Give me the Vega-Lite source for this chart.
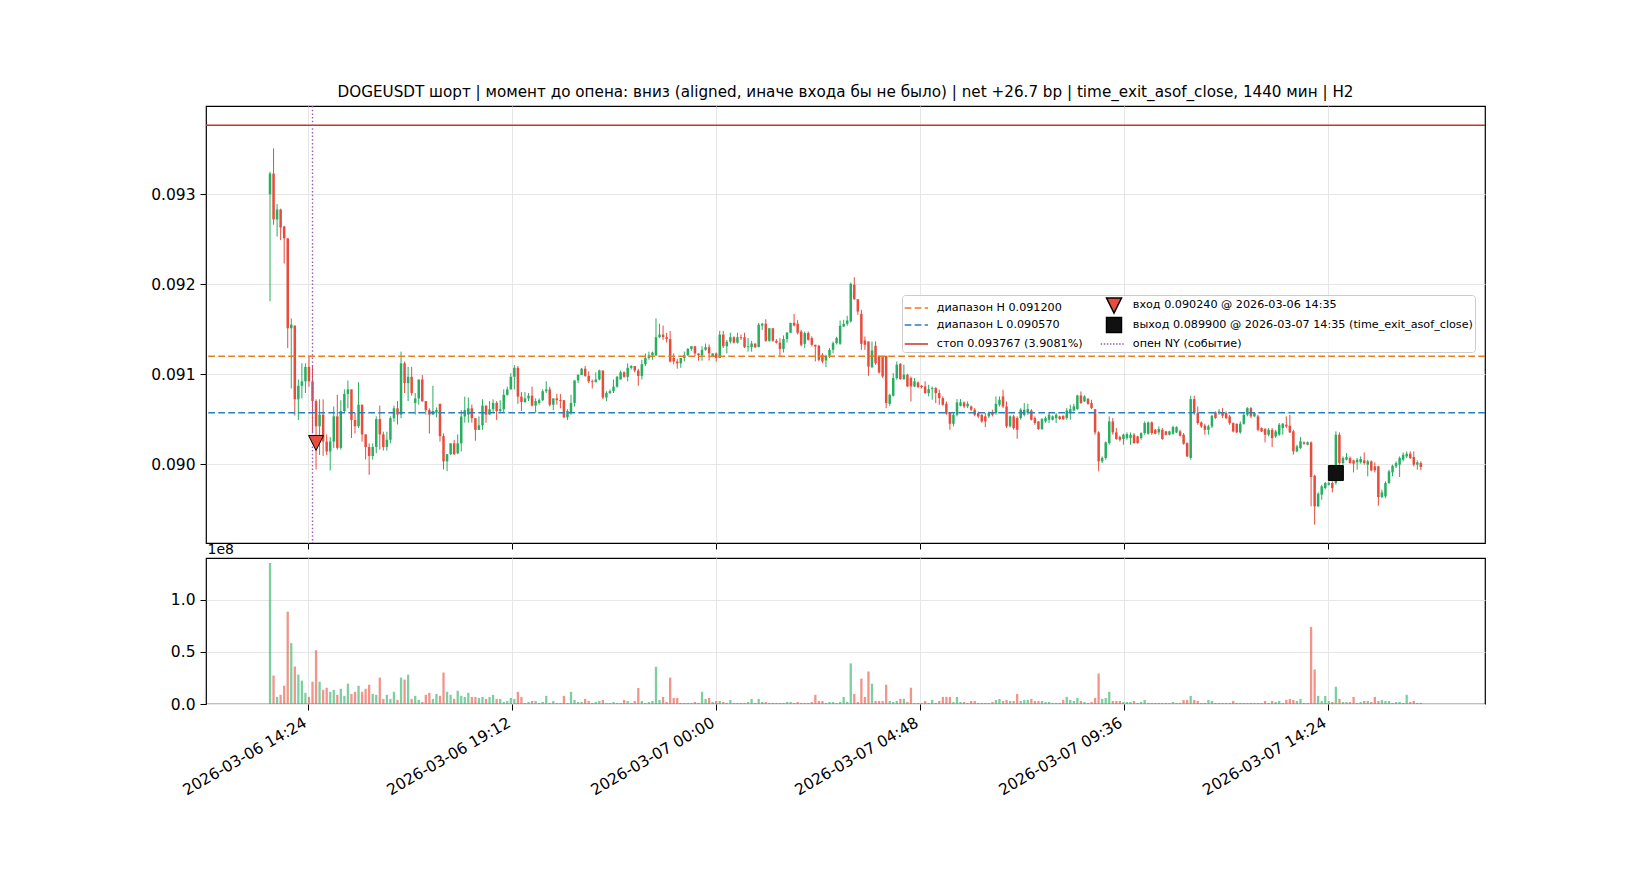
{
"$schema":"https://vega.github.io/schema/vega-lite/v6.json",
"background":"white",
"padding":{"left":150,"top":84,"right":20,"bottom":20},
"spacing":15,
"bounds":"flush",
"config":{
 "font":"DejaVu Sans",
 "view":{"stroke":"#000000","strokeWidth":1.2},
 "axis":{"domain":false,"tickColor":"#000000","tickSize":6,"tickWidth":1,"labelFont":"DejaVu Sans","labelFontSize":15.5,"labelColor":"#000000","gridColor":"#e6e6e6","gridWidth":1,"labelPadding":5,"labelFlush":false,"labelOverlap":false},
 "legend":{"orient":"none","legendX":696,"legendY":189,"columns":2,"fillColor":"rgba(255,255,255,0.8)","strokeColor":"#cccccc","cornerRadius":3,"padding":2,"labelFont":"DejaVu Sans","labelFontSize":11.2,"labelColor":"#000000","labelLimit":600,"symbolSize":196,"symbolStrokeWidth":1.5,"labelOffset":10.8,"symbolOffset":6,"rowPadding":-2,"columnPadding":14,"symbolOpacity":1}
},
"datasets":{"candles":[
{"t":"2026-03-06T13:30:00Z","o":0.093,"h":0.09325,"l":0.09181,"c":0.09323,"v":135400000},
{"t":"2026-03-06T13:35:00Z","o":0.09323,"h":0.09351,"l":0.09266,"c":0.09272,"v":27300000},
{"t":"2026-03-06T13:40:00Z","o":0.09272,"h":0.09289,"l":0.09253,"c":0.09283,"v":6800000},
{"t":"2026-03-06T13:45:00Z","o":0.09283,"h":0.09284,"l":0.09249,"c":0.09263,"v":8800000},
{"t":"2026-03-06T13:50:00Z","o":0.09264,"h":0.09265,"l":0.09223,"c":0.09251,"v":17500000},
{"t":"2026-03-06T13:55:00Z","o":0.09251,"h":0.09251,"l":0.09129,"c":0.09151,"v":88600000},
{"t":"2026-03-06T14:00:00Z","o":0.09151,"h":0.09162,"l":0.09084,"c":0.09155,"v":58400000},
{"t":"2026-03-06T14:05:00Z","o":0.09154,"h":0.09154,"l":0.09054,"c":0.09072,"v":36000000},
{"t":"2026-03-06T14:10:00Z","o":0.09072,"h":0.09094,"l":0.09049,"c":0.09087,"v":28200000},
{"t":"2026-03-06T14:15:00Z","o":0.09087,"h":0.09112,"l":0.09073,"c":0.09092,"v":22400000},
{"t":"2026-03-06T14:20:00Z","o":0.09092,"h":0.09112,"l":0.09079,"c":0.09108,"v":10700000},
{"t":"2026-03-06T14:25:00Z","o":0.09108,"h":0.09121,"l":0.09086,"c":0.09092,"v":6800000},
{"t":"2026-03-06T14:30:00Z","o":0.09092,"h":0.0911,"l":0.09034,"c":0.0907,"v":21400000},
{"t":"2026-03-06T14:35:00Z","o":0.0907,"h":0.09072,"l":0.08994,"c":0.09042,"v":51600000},
{"t":"2026-03-06T14:40:00Z","o":0.09042,"h":0.09072,"l":0.0901,"c":0.09055,"v":21400000},
{"t":"2026-03-06T14:45:00Z","o":0.09055,"h":0.09072,"l":0.09009,"c":0.09025,"v":13600000},
{"t":"2026-03-06T14:50:00Z","o":0.09025,"h":0.09033,"l":0.0901,"c":0.09014,"v":15600000},
{"t":"2026-03-06T14:55:00Z","o":0.09014,"h":0.0903,"l":0.08993,"c":0.09025,"v":11700000},
{"t":"2026-03-06T15:00:00Z","o":0.09025,"h":0.09064,"l":0.09018,"c":0.09053,"v":13600000},
{"t":"2026-03-06T15:05:00Z","o":0.09053,"h":0.09077,"l":0.09016,"c":0.09018,"v":8800000},
{"t":"2026-03-06T15:10:00Z","o":0.09018,"h":0.09071,"l":0.09016,"c":0.09059,"v":14600000},
{"t":"2026-03-06T15:15:00Z","o":0.09059,"h":0.09083,"l":0.09057,"c":0.09078,"v":7800000},
{"t":"2026-03-06T15:20:00Z","o":0.09078,"h":0.09093,"l":0.09062,"c":0.09083,"v":19500000},
{"t":"2026-03-06T15:25:00Z","o":0.09083,"h":0.09083,"l":0.09029,"c":0.09049,"v":9700000},
{"t":"2026-03-06T15:30:00Z","o":0.09049,"h":0.09057,"l":0.09034,"c":0.09042,"v":11700000},
{"t":"2026-03-06T15:35:00Z","o":0.09042,"h":0.09091,"l":0.0904,"c":0.09066,"v":17500000},
{"t":"2026-03-06T15:40:00Z","o":0.09066,"h":0.09066,"l":0.09025,"c":0.09033,"v":11700000},
{"t":"2026-03-06T15:45:00Z","o":0.09033,"h":0.09033,"l":0.09005,"c":0.09019,"v":14600000},
{"t":"2026-03-06T15:50:00Z","o":0.09019,"h":0.09023,"l":0.08988,"c":0.09009,"v":18500000},
{"t":"2026-03-06T15:55:00Z","o":0.09009,"h":0.09023,"l":0.09005,"c":0.09019,"v":9700000},
{"t":"2026-03-06T16:00:00Z","o":0.09019,"h":0.09053,"l":0.09012,"c":0.0905,"v":8800000},
{"t":"2026-03-06T16:05:00Z","o":0.0905,"h":0.09065,"l":0.09016,"c":0.09033,"v":25300000},
{"t":"2026-03-06T16:10:00Z","o":0.09033,"h":0.09036,"l":0.09015,"c":0.09019,"v":4900000},
{"t":"2026-03-06T16:15:00Z","o":0.09019,"h":0.09036,"l":0.09015,"c":0.09027,"v":8800000},
{"t":"2026-03-06T16:20:00Z","o":0.09027,"h":0.09053,"l":0.09023,"c":0.09051,"v":4900000},
{"t":"2026-03-06T16:25:00Z","o":0.09051,"h":0.09065,"l":0.09047,"c":0.09062,"v":11700000},
{"t":"2026-03-06T16:30:00Z","o":0.09062,"h":0.0907,"l":0.09044,"c":0.09055,"v":3900000},
{"t":"2026-03-06T16:35:00Z","o":0.09055,"h":0.09125,"l":0.09051,"c":0.09112,"v":25300000},
{"t":"2026-03-06T16:40:00Z","o":0.09112,"h":0.09114,"l":0.09079,"c":0.0909,"v":23400000},
{"t":"2026-03-06T16:45:00Z","o":0.0909,"h":0.09108,"l":0.0907,"c":0.09097,"v":28200000},
{"t":"2026-03-06T16:50:00Z","o":0.09097,"h":0.09108,"l":0.09076,"c":0.09079,"v":4900000},
{"t":"2026-03-06T16:55:00Z","o":0.09068,"h":0.09079,"l":0.09055,"c":0.09073,"v":7800000},
{"t":"2026-03-06T17:00:00Z","o":0.09073,"h":0.09094,"l":0.09066,"c":0.09094,"v":3900000},
{"t":"2026-03-06T17:05:00Z","o":0.09094,"h":0.09099,"l":0.09069,"c":0.0907,"v":1900000},
{"t":"2026-03-06T17:10:00Z","o":0.0907,"h":0.0907,"l":0.09055,"c":0.0906,"v":8800000},
{"t":"2026-03-06T17:15:00Z","o":0.0906,"h":0.09062,"l":0.09034,"c":0.09055,"v":10700000},
{"t":"2026-03-06T17:20:00Z","o":0.09055,"h":0.09087,"l":0.09055,"c":0.09059,"v":4900000},
{"t":"2026-03-06T17:25:00Z","o":0.09057,"h":0.09063,"l":0.09052,"c":0.0906,"v":9700000},
{"t":"2026-03-06T17:30:00Z","o":0.09067,"h":0.09067,"l":0.09025,"c":0.09031,"v":7800000},
{"t":"2026-03-06T17:35:00Z","o":0.09031,"h":0.09034,"l":0.08994,"c":0.09003,"v":30200000},
{"t":"2026-03-06T17:40:00Z","o":0.09003,"h":0.09011,"l":0.08992,"c":0.09011,"v":11700000},
{"t":"2026-03-06T17:45:00Z","o":0.09011,"h":0.09023,"l":0.0901,"c":0.09023,"v":8800000},
{"t":"2026-03-06T17:50:00Z","o":0.09023,"h":0.09027,"l":0.0901,"c":0.09011,"v":4900000},
{"t":"2026-03-06T17:55:00Z","o":0.09012,"h":0.09033,"l":0.09011,"c":0.09023,"v":12700000},
{"t":"2026-03-06T18:00:00Z","o":0.09023,"h":0.0906,"l":0.09014,"c":0.09053,"v":7800000},
{"t":"2026-03-06T18:05:00Z","o":0.09053,"h":0.09075,"l":0.09046,"c":0.0906,"v":6800000},
{"t":"2026-03-06T18:10:00Z","o":0.09055,"h":0.09074,"l":0.09046,"c":0.09062,"v":10700000},
{"t":"2026-03-06T18:15:00Z","o":0.09062,"h":0.09066,"l":0.09046,"c":0.09051,"v":6800000},
{"t":"2026-03-06T18:20:00Z","o":0.09051,"h":0.09051,"l":0.09026,"c":0.09038,"v":6800000},
{"t":"2026-03-06T18:25:00Z","o":0.09038,"h":0.09053,"l":0.09038,"c":0.09043,"v":5800000},
{"t":"2026-03-06T18:30:00Z","o":0.09043,"h":0.09072,"l":0.09038,"c":0.09065,"v":6800000},
{"t":"2026-03-06T18:35:00Z","o":0.09065,"h":0.09065,"l":0.09046,"c":0.09055,"v":4900000},
{"t":"2026-03-06T18:40:00Z","o":0.09055,"h":0.0907,"l":0.09055,"c":0.09061,"v":6800000},
{"t":"2026-03-06T18:45:00Z","o":0.09061,"h":0.09072,"l":0.09057,"c":0.09068,"v":8800000},
{"t":"2026-03-06T18:50:00Z","o":0.09068,"h":0.0907,"l":0.09049,"c":0.09059,"v":4900000},
{"t":"2026-03-06T18:55:00Z","o":0.09059,"h":0.09071,"l":0.09057,"c":0.09061,"v":4900000},
{"t":"2026-03-06T19:00:00Z","o":0.09061,"h":0.09083,"l":0.09057,"c":0.09077,"v":1900000},
{"t":"2026-03-06T19:05:00Z","o":0.09077,"h":0.09086,"l":0.09076,"c":0.09083,"v":2900000},
{"t":"2026-03-06T19:10:00Z","o":0.09083,"h":0.09101,"l":0.09083,"c":0.09097,"v":5800000},
{"t":"2026-03-06T19:15:00Z","o":0.09097,"h":0.0911,"l":0.09083,"c":0.09107,"v":4900000},
{"t":"2026-03-06T19:20:00Z","o":0.09107,"h":0.09109,"l":0.09067,"c":0.09075,"v":11700000},
{"t":"2026-03-06T19:25:00Z","o":0.09075,"h":0.0908,"l":0.09059,"c":0.09069,"v":6800000},
{"t":"2026-03-06T19:30:00Z","o":0.09069,"h":0.0908,"l":0.09068,"c":0.09073,"v":1000000},
{"t":"2026-03-06T19:35:00Z","o":0.09073,"h":0.09079,"l":0.0907,"c":0.09076,"v":1900000},
{"t":"2026-03-06T19:40:00Z","o":0.09076,"h":0.09086,"l":0.09064,"c":0.09065,"v":2900000},
{"t":"2026-03-06T19:45:00Z","o":0.09065,"h":0.09073,"l":0.09057,"c":0.0907,"v":2900000},
{"t":"2026-03-06T19:50:00Z","o":0.09068,"h":0.09073,"l":0.09066,"c":0.09071,"v":1000000},
{"t":"2026-03-06T19:55:00Z","o":0.09071,"h":0.09083,"l":0.0907,"c":0.09081,"v":1900000},
{"t":"2026-03-06T20:00:00Z","o":0.09081,"h":0.09092,"l":0.09079,"c":0.09083,"v":7800000},
{"t":"2026-03-06T20:05:00Z","o":0.09083,"h":0.09086,"l":0.09064,"c":0.09066,"v":1000000},
{"t":"2026-03-06T20:10:00Z","o":0.09066,"h":0.09073,"l":0.0906,"c":0.09073,"v":2900000},
{"t":"2026-03-06T20:15:00Z","o":0.09073,"h":0.09078,"l":0.09066,"c":0.09071,"v":1000000},
{"t":"2026-03-06T20:20:00Z","o":0.09071,"h":0.09078,"l":0.09062,"c":0.0907,"v":1000000},
{"t":"2026-03-06T20:25:00Z","o":0.09071,"h":0.09071,"l":0.09051,"c":0.09052,"v":7800000},
{"t":"2026-03-06T20:30:00Z","o":0.09052,"h":0.09061,"l":0.09049,"c":0.09059,"v":1000000},
{"t":"2026-03-06T20:35:00Z","o":0.09057,"h":0.09077,"l":0.09055,"c":0.09068,"v":11700000},
{"t":"2026-03-06T20:40:00Z","o":0.09068,"h":0.09093,"l":0.09064,"c":0.09093,"v":3900000},
{"t":"2026-03-06T20:45:00Z","o":0.09093,"h":0.091,"l":0.0909,"c":0.09099,"v":1900000},
{"t":"2026-03-06T20:50:00Z","o":0.09099,"h":0.09107,"l":0.09099,"c":0.09106,"v":1900000},
{"t":"2026-03-06T20:55:00Z","o":0.09106,"h":0.09109,"l":0.09097,"c":0.09098,"v":4900000},
{"t":"2026-03-06T21:00:00Z","o":0.09098,"h":0.09103,"l":0.0909,"c":0.09092,"v":2900000},
{"t":"2026-03-06T21:05:00Z","o":0.09092,"h":0.09094,"l":0.09084,"c":0.09091,"v":1000000},
{"t":"2026-03-06T21:10:00Z","o":0.09091,"h":0.09102,"l":0.09091,"c":0.09094,"v":1900000},
{"t":"2026-03-06T21:15:00Z","o":0.09094,"h":0.09105,"l":0.09093,"c":0.09104,"v":2900000},
{"t":"2026-03-06T21:20:00Z","o":0.09104,"h":0.09104,"l":0.09072,"c":0.09074,"v":3900000},
{"t":"2026-03-06T21:25:00Z","o":0.09074,"h":0.09081,"l":0.0907,"c":0.09079,"v":1000000},
{"t":"2026-03-06T21:30:00Z","o":0.09079,"h":0.09083,"l":0.09078,"c":0.09081,"v":1000000},
{"t":"2026-03-06T21:35:00Z","o":0.09081,"h":0.09094,"l":0.09079,"c":0.09086,"v":1900000},
{"t":"2026-03-06T21:40:00Z","o":0.09086,"h":0.09098,"l":0.09085,"c":0.09097,"v":1000000},
{"t":"2026-03-06T21:45:00Z","o":0.09094,"h":0.09104,"l":0.09094,"c":0.09102,"v":1000000},
{"t":"2026-03-06T21:50:00Z","o":0.09102,"h":0.09103,"l":0.09096,"c":0.09097,"v":3900000},
{"t":"2026-03-06T21:55:00Z","o":0.09097,"h":0.09112,"l":0.09092,"c":0.09107,"v":2900000},
{"t":"2026-03-06T22:00:00Z","o":0.09107,"h":0.0911,"l":0.09105,"c":0.09109,"v":1000000},
{"t":"2026-03-06T22:05:00Z","o":0.09109,"h":0.09109,"l":0.09102,"c":0.09104,"v":2900000},
{"t":"2026-03-06T22:10:00Z","o":0.09104,"h":0.09106,"l":0.09087,"c":0.09098,"v":15300000},
{"t":"2026-03-06T22:15:00Z","o":0.09098,"h":0.09116,"l":0.09094,"c":0.09111,"v":2900000},
{"t":"2026-03-06T22:20:00Z","o":0.09111,"h":0.09123,"l":0.09109,"c":0.09118,"v":1000000},
{"t":"2026-03-06T22:25:00Z","o":0.09118,"h":0.09125,"l":0.09116,"c":0.09121,"v":1900000},
{"t":"2026-03-06T22:30:00Z","o":0.09121,"h":0.09125,"l":0.09116,"c":0.09124,"v":2900000},
{"t":"2026-03-06T22:35:00Z","o":0.09121,"h":0.09162,"l":0.0912,"c":0.09141,"v":35700000},
{"t":"2026-03-06T22:40:00Z","o":0.09141,"h":0.09156,"l":0.0914,"c":0.09144,"v":3900000},
{"t":"2026-03-06T22:45:00Z","o":0.09144,"h":0.09154,"l":0.09138,"c":0.09141,"v":6800000},
{"t":"2026-03-06T22:50:00Z","o":0.09141,"h":0.09146,"l":0.09135,"c":0.09139,"v":1900000},
{"t":"2026-03-06T22:55:00Z","o":0.09139,"h":0.09148,"l":0.09113,"c":0.09114,"v":25300000},
{"t":"2026-03-06T23:00:00Z","o":0.09118,"h":0.09123,"l":0.09111,"c":0.09114,"v":5800000},
{"t":"2026-03-06T23:05:00Z","o":0.09114,"h":0.09117,"l":0.09106,"c":0.09112,"v":5800000},
{"t":"2026-03-06T23:10:00Z","o":0.09112,"h":0.09118,"l":0.09107,"c":0.09118,"v":1000000},
{"t":"2026-03-06T23:15:00Z","o":0.09118,"h":0.09125,"l":0.09114,"c":0.09121,"v":1000000},
{"t":"2026-03-06T23:20:00Z","o":0.09121,"h":0.09129,"l":0.0912,"c":0.09128,"v":1000000},
{"t":"2026-03-06T23:25:00Z","o":0.09128,"h":0.09131,"l":0.09126,"c":0.09131,"v":1000000},
{"t":"2026-03-06T23:30:00Z","o":0.09131,"h":0.09131,"l":0.0912,"c":0.09123,"v":1900000},
{"t":"2026-03-06T23:35:00Z","o":0.09123,"h":0.09123,"l":0.09115,"c":0.09121,"v":1000000},
{"t":"2026-03-06T23:40:00Z","o":0.09121,"h":0.09131,"l":0.09115,"c":0.09127,"v":11700000},
{"t":"2026-03-06T23:45:00Z","o":0.09127,"h":0.09134,"l":0.09126,"c":0.0913,"v":4900000},
{"t":"2026-03-06T23:50:00Z","o":0.0913,"h":0.09133,"l":0.09115,"c":0.09123,"v":5800000},
{"t":"2026-03-06T23:55:00Z","o":0.0912,"h":0.09123,"l":0.09119,"c":0.09123,"v":1900000},
{"t":"2026-03-07T00:00:00Z","o":0.09123,"h":0.09124,"l":0.09114,"c":0.09118,"v":2900000},
{"t":"2026-03-07T00:05:00Z","o":0.09118,"h":0.09148,"l":0.09118,"c":0.09144,"v":2900000},
{"t":"2026-03-07T00:10:00Z","o":0.09144,"h":0.09148,"l":0.09129,"c":0.09131,"v":1900000},
{"t":"2026-03-07T00:15:00Z","o":0.09131,"h":0.09138,"l":0.09123,"c":0.09136,"v":1000000},
{"t":"2026-03-07T00:20:00Z","o":0.09136,"h":0.09146,"l":0.09134,"c":0.09141,"v":3900000},
{"t":"2026-03-07T00:25:00Z","o":0.09141,"h":0.09142,"l":0.09134,"c":0.09135,"v":1000000},
{"t":"2026-03-07T00:30:00Z","o":0.09135,"h":0.09146,"l":0.09134,"c":0.09141,"v":1000000},
{"t":"2026-03-07T00:35:00Z","o":0.09141,"h":0.09144,"l":0.09138,"c":0.0914,"v":1000000},
{"t":"2026-03-07T00:40:00Z","o":0.09141,"h":0.09146,"l":0.09129,"c":0.0913,"v":1000000},
{"t":"2026-03-07T00:45:00Z","o":0.0913,"h":0.0914,"l":0.09125,"c":0.09131,"v":1900000},
{"t":"2026-03-07T00:50:00Z","o":0.0913,"h":0.09137,"l":0.09125,"c":0.09134,"v":4900000},
{"t":"2026-03-07T00:55:00Z","o":0.09134,"h":0.09134,"l":0.09129,"c":0.0913,"v":1000000},
{"t":"2026-03-07T01:00:00Z","o":0.0913,"h":0.09157,"l":0.0913,"c":0.09155,"v":4900000},
{"t":"2026-03-07T01:05:00Z","o":0.09154,"h":0.09157,"l":0.09149,"c":0.09156,"v":1900000},
{"t":"2026-03-07T01:10:00Z","o":0.09156,"h":0.09161,"l":0.09136,"c":0.09137,"v":1900000},
{"t":"2026-03-07T01:15:00Z","o":0.09137,"h":0.09151,"l":0.09136,"c":0.09151,"v":1000000},
{"t":"2026-03-07T01:20:00Z","o":0.09151,"h":0.09151,"l":0.09136,"c":0.09137,"v":1000000},
{"t":"2026-03-07T01:25:00Z","o":0.09137,"h":0.09139,"l":0.09134,"c":0.09135,"v":1000000},
{"t":"2026-03-07T01:30:00Z","o":0.09135,"h":0.0914,"l":0.0912,"c":0.09128,"v":1000000},
{"t":"2026-03-07T01:35:00Z","o":0.09128,"h":0.09143,"l":0.09124,"c":0.09139,"v":1000000},
{"t":"2026-03-07T01:40:00Z","o":0.09139,"h":0.09147,"l":0.09135,"c":0.09146,"v":1900000},
{"t":"2026-03-07T01:45:00Z","o":0.09146,"h":0.09157,"l":0.09146,"c":0.09157,"v":1900000},
{"t":"2026-03-07T01:50:00Z","o":0.09157,"h":0.09167,"l":0.09153,"c":0.09154,"v":1000000},
{"t":"2026-03-07T01:55:00Z","o":0.09156,"h":0.0916,"l":0.09144,"c":0.09146,"v":1900000},
{"t":"2026-03-07T02:00:00Z","o":0.091474,"h":0.091493,"l":0.091307,"c":0.091326,"v":1000000},
{"t":"2026-03-07T02:05:00Z","o":0.091337,"h":0.091474,"l":0.091289,"c":0.091456,"v":1000000},
{"t":"2026-03-07T02:10:00Z","o":0.091456,"h":0.091474,"l":0.091374,"c":0.091381,"v":1000000},
{"t":"2026-03-07T02:15:00Z","o":0.0914,"h":0.091419,"l":0.091307,"c":0.091326,"v":1900000},
{"t":"2026-03-07T02:20:00Z","o":0.091326,"h":0.091326,"l":0.091141,"c":0.091307,"v":8800000},
{"t":"2026-03-07T02:25:00Z","o":0.091315,"h":0.091326,"l":0.091141,"c":0.091159,"v":2900000},
{"t":"2026-03-07T02:30:00Z","o":0.091215,"h":0.091233,"l":0.091122,"c":0.091141,"v":2900000},
{"t":"2026-03-07T02:35:00Z","o":0.091152,"h":0.091215,"l":0.091078,"c":0.091204,"v":1000000},
{"t":"2026-03-07T02:40:00Z","o":0.091204,"h":0.091289,"l":0.091178,"c":0.09127,"v":1900000},
{"t":"2026-03-07T02:45:00Z","o":0.09127,"h":0.091363,"l":0.091233,"c":0.091344,"v":1900000},
{"t":"2026-03-07T02:50:00Z","o":0.091344,"h":0.091415,"l":0.09133,"c":0.0914,"v":1000000},
{"t":"2026-03-07T02:55:00Z","o":0.091337,"h":0.091596,"l":0.091326,"c":0.091537,"v":1900000},
{"t":"2026-03-07T03:00:00Z","o":0.09153,"h":0.091604,"l":0.091522,"c":0.091559,"v":6800000},
{"t":"2026-03-07T03:05:00Z","o":0.091559,"h":0.091648,"l":0.091537,"c":0.091596,"v":1900000},
{"t":"2026-03-07T03:10:00Z","o":0.091585,"h":0.092019,"l":0.091574,"c":0.092004,"v":39000000},
{"t":"2026-03-07T03:15:00Z","o":0.091993,"h":0.092078,"l":0.091826,"c":0.091833,"v":9700000},
{"t":"2026-03-07T03:20:00Z","o":0.091833,"h":0.091833,"l":0.091659,"c":0.091696,"v":1900000},
{"t":"2026-03-07T03:25:00Z","o":0.09167,"h":0.091715,"l":0.09127,"c":0.091337,"v":24300000},
{"t":"2026-03-07T03:30:00Z","o":0.091374,"h":0.091419,"l":0.09127,"c":0.091326,"v":6800000},
{"t":"2026-03-07T03:35:00Z","o":0.091363,"h":0.091363,"l":0.090981,"c":0.091085,"v":31200000},
{"t":"2026-03-07T03:40:00Z","o":0.091078,"h":0.091363,"l":0.091067,"c":0.091263,"v":19500000},
{"t":"2026-03-07T03:45:00Z","o":0.091315,"h":0.091363,"l":0.091104,"c":0.091122,"v":2900000},
{"t":"2026-03-07T03:50:00Z","o":0.091204,"h":0.091204,"l":0.091004,"c":0.091019,"v":2900000},
{"t":"2026-03-07T03:55:00Z","o":0.091196,"h":0.091204,"l":0.090956,"c":0.090974,"v":2900000},
{"t":"2026-03-07T04:00:00Z","o":0.091204,"h":0.091204,"l":0.090622,"c":0.090678,"v":18500000},
{"t":"2026-03-07T04:05:00Z","o":0.09067,"h":0.090781,"l":0.090648,"c":0.09077,"v":2900000},
{"t":"2026-03-07T04:10:00Z","o":0.090759,"h":0.091011,"l":0.090752,"c":0.090956,"v":1900000},
{"t":"2026-03-07T04:15:00Z","o":0.090956,"h":0.091141,"l":0.090937,"c":0.091104,"v":2900000},
{"t":"2026-03-07T04:20:00Z","o":0.091115,"h":0.091122,"l":0.090937,"c":0.090944,"v":4900000},
{"t":"2026-03-07T04:25:00Z","o":0.090944,"h":0.091104,"l":0.090937,"c":0.090993,"v":4900000},
{"t":"2026-03-07T04:30:00Z","o":0.090993,"h":0.091004,"l":0.090856,"c":0.090863,"v":1900000},
{"t":"2026-03-07T04:35:00Z","o":0.090956,"h":0.090974,"l":0.090696,"c":0.090863,"v":15600000},
{"t":"2026-03-07T04:40:00Z","o":0.090863,"h":0.090956,"l":0.090856,"c":0.090919,"v":1000000},
{"t":"2026-03-07T04:45:00Z","o":0.090907,"h":0.090919,"l":0.090844,"c":0.090856,"v":1000000},
{"t":"2026-03-07T04:50:00Z","o":0.09087,"h":0.09088,"l":0.09084,"c":0.090856,"v":1000000},
{"t":"2026-03-07T04:55:00Z","o":0.090863,"h":0.090919,"l":0.090781,"c":0.090789,"v":2900000},
{"t":"2026-03-07T05:00:00Z","o":0.090789,"h":0.090881,"l":0.090752,"c":0.090833,"v":1000000},
{"t":"2026-03-07T05:05:00Z","o":0.090833,"h":0.090863,"l":0.090715,"c":0.090844,"v":3900000},
{"t":"2026-03-07T05:10:00Z","o":0.090844,"h":0.090856,"l":0.090678,"c":0.090789,"v":1000000},
{"t":"2026-03-07T05:15:00Z","o":0.090789,"h":0.090826,"l":0.090659,"c":0.090733,"v":2900000},
{"t":"2026-03-07T05:20:00Z","o":0.090733,"h":0.090752,"l":0.090648,"c":0.090659,"v":6800000},
{"t":"2026-03-07T05:25:00Z","o":0.09067,"h":0.090696,"l":0.090548,"c":0.090559,"v":6800000},
{"t":"2026-03-07T05:30:00Z","o":0.090567,"h":0.090574,"l":0.090381,"c":0.090448,"v":6800000},
{"t":"2026-03-07T05:35:00Z","o":0.090448,"h":0.090574,"l":0.090419,"c":0.090548,"v":1900000},
{"t":"2026-03-07T05:40:00Z","o":0.090548,"h":0.090722,"l":0.09053,"c":0.090685,"v":6800000},
{"t":"2026-03-07T05:45:00Z","o":0.090648,"h":0.090722,"l":0.090641,"c":0.090685,"v":1900000},
{"t":"2026-03-07T05:50:00Z","o":0.090685,"h":0.090696,"l":0.090622,"c":0.090641,"v":1900000},
{"t":"2026-03-07T05:55:00Z","o":0.090641,"h":0.090696,"l":0.090622,"c":0.09067,"v":1000000},
{"t":"2026-03-07T06:00:00Z","o":0.090641,"h":0.09065,"l":0.09059,"c":0.090604,"v":2900000},
{"t":"2026-03-07T06:05:00Z","o":0.090604,"h":0.090622,"l":0.09053,"c":0.090548,"v":2900000},
{"t":"2026-03-07T06:10:00Z","o":0.090567,"h":0.090585,"l":0.090511,"c":0.09053,"v":1000000},
{"t":"2026-03-07T06:15:00Z","o":0.090548,"h":0.090555,"l":0.09046,"c":0.090474,"v":1000000},
{"t":"2026-03-07T06:20:00Z","o":0.09053,"h":0.090567,"l":0.090411,"c":0.090474,"v":1000000},
{"t":"2026-03-07T06:25:00Z","o":0.09053,"h":0.090585,"l":0.090511,"c":0.090567,"v":1000000},
{"t":"2026-03-07T06:30:00Z","o":0.090574,"h":0.090604,"l":0.09053,"c":0.090548,"v":1900000},
{"t":"2026-03-07T06:35:00Z","o":0.090567,"h":0.090752,"l":0.090548,"c":0.09067,"v":3900000},
{"t":"2026-03-07T06:40:00Z","o":0.090659,"h":0.090752,"l":0.090641,"c":0.090715,"v":4900000},
{"t":"2026-03-07T06:45:00Z","o":0.090752,"h":0.090826,"l":0.090622,"c":0.090641,"v":2900000},
{"t":"2026-03-07T06:50:00Z","o":0.090641,"h":0.090696,"l":0.0904,"c":0.090419,"v":3900000},
{"t":"2026-03-07T06:55:00Z","o":0.090419,"h":0.09054,"l":0.090407,"c":0.09053,"v":2900000},
{"t":"2026-03-07T07:00:00Z","o":0.09053,"h":0.090548,"l":0.090381,"c":0.0904,"v":2900000},
{"t":"2026-03-07T07:05:00Z","o":0.090511,"h":0.09053,"l":0.090281,"c":0.090381,"v":9700000},
{"t":"2026-03-07T07:10:00Z","o":0.090511,"h":0.090622,"l":0.090493,"c":0.090604,"v":2900000},
{"t":"2026-03-07T07:15:00Z","o":0.090548,"h":0.090678,"l":0.09053,"c":0.090604,"v":3900000},
{"t":"2026-03-07T07:20:00Z","o":0.090567,"h":0.09067,"l":0.090548,"c":0.090611,"v":3900000},
{"t":"2026-03-07T07:25:00Z","o":0.090596,"h":0.090611,"l":0.090485,"c":0.090493,"v":4900000},
{"t":"2026-03-07T07:30:00Z","o":0.090511,"h":0.09053,"l":0.090437,"c":0.090456,"v":2900000},
{"t":"2026-03-07T07:35:00Z","o":0.090474,"h":0.090474,"l":0.090381,"c":0.090389,"v":2900000},
{"t":"2026-03-07T07:40:00Z","o":0.090389,"h":0.090511,"l":0.090381,"c":0.0905,"v":2900000},
{"t":"2026-03-07T07:45:00Z","o":0.090474,"h":0.09053,"l":0.09046,"c":0.090511,"v":1900000},
{"t":"2026-03-07T07:50:00Z","o":0.090493,"h":0.090567,"l":0.090456,"c":0.090548,"v":1900000},
{"t":"2026-03-07T07:55:00Z","o":0.090493,"h":0.09054,"l":0.090485,"c":0.09053,"v":1000000},
{"t":"2026-03-07T08:00:00Z","o":0.090511,"h":0.090567,"l":0.090456,"c":0.090548,"v":1000000},
{"t":"2026-03-07T08:05:00Z","o":0.09053,"h":0.090537,"l":0.090493,"c":0.0905,"v":1000000},
{"t":"2026-03-07T08:10:00Z","o":0.090537,"h":0.09054,"l":0.09049,"c":0.0905,"v":3900000},
{"t":"2026-03-07T08:15:00Z","o":0.090511,"h":0.090622,"l":0.090493,"c":0.090596,"v":6800000},
{"t":"2026-03-07T08:20:00Z","o":0.090567,"h":0.090659,"l":0.090493,"c":0.090611,"v":3900000},
{"t":"2026-03-07T08:25:00Z","o":0.090596,"h":0.09067,"l":0.090585,"c":0.090641,"v":2900000},
{"t":"2026-03-07T08:30:00Z","o":0.090611,"h":0.09077,"l":0.090604,"c":0.090763,"v":5800000},
{"t":"2026-03-07T08:35:00Z","o":0.090763,"h":0.090807,"l":0.09067,"c":0.090678,"v":2900000},
{"t":"2026-03-07T08:40:00Z","o":0.090696,"h":0.090765,"l":0.09069,"c":0.090752,"v":1900000},
{"t":"2026-03-07T08:45:00Z","o":0.090726,"h":0.090733,"l":0.090659,"c":0.09067,"v":1000000},
{"t":"2026-03-07T08:50:00Z","o":0.090678,"h":0.090715,"l":0.090611,"c":0.090622,"v":1900000},
{"t":"2026-03-07T08:55:00Z","o":0.090611,"h":0.090611,"l":0.090326,"c":0.090352,"v":5800000},
{"t":"2026-03-07T09:00:00Z","o":0.090352,"h":0.090363,"l":0.089919,"c":0.09003,"v":29200000},
{"t":"2026-03-07T09:05:00Z","o":0.09003,"h":0.090085,"l":0.090011,"c":0.090067,"v":4900000},
{"t":"2026-03-07T09:10:00Z","o":0.090067,"h":0.090252,"l":0.090048,"c":0.090241,"v":5800000},
{"t":"2026-03-07T09:15:00Z","o":0.090233,"h":0.09053,"l":0.090215,"c":0.090474,"v":11700000},
{"t":"2026-03-07T09:20:00Z","o":0.090474,"h":0.090511,"l":0.090326,"c":0.090352,"v":2900000},
{"t":"2026-03-07T09:25:00Z","o":0.090352,"h":0.0904,"l":0.09027,"c":0.090278,"v":2900000},
{"t":"2026-03-07T09:30:00Z","o":0.0903,"h":0.090315,"l":0.090252,"c":0.09027,"v":2900000},
{"t":"2026-03-07T09:35:00Z","o":0.090278,"h":0.090337,"l":0.090215,"c":0.090326,"v":1900000},
{"t":"2026-03-07T09:40:00Z","o":0.090289,"h":0.090352,"l":0.09027,"c":0.090333,"v":1900000},
{"t":"2026-03-07T09:45:00Z","o":0.090289,"h":0.090352,"l":0.090215,"c":0.090326,"v":1900000},
{"t":"2026-03-07T09:50:00Z","o":0.090326,"h":0.090344,"l":0.090226,"c":0.090233,"v":2900000},
{"t":"2026-03-07T09:55:00Z","o":0.090307,"h":0.090315,"l":0.090226,"c":0.090233,"v":1000000},
{"t":"2026-03-07T10:00:00Z","o":0.090289,"h":0.090352,"l":0.09027,"c":0.090344,"v":1900000},
{"t":"2026-03-07T10:05:00Z","o":0.090344,"h":0.090474,"l":0.090326,"c":0.090456,"v":3900000},
{"t":"2026-03-07T10:10:00Z","o":0.090337,"h":0.090474,"l":0.090326,"c":0.090463,"v":1000000},
{"t":"2026-03-07T10:15:00Z","o":0.090463,"h":0.090474,"l":0.090326,"c":0.090344,"v":1000000},
{"t":"2026-03-07T10:20:00Z","o":0.090381,"h":0.090389,"l":0.09033,"c":0.090337,"v":1000000},
{"t":"2026-03-07T10:25:00Z","o":0.090352,"h":0.090419,"l":0.090326,"c":0.090389,"v":1000000},
{"t":"2026-03-07T10:30:00Z","o":0.090381,"h":0.0904,"l":0.09027,"c":0.090278,"v":1000000},
{"t":"2026-03-07T10:35:00Z","o":0.090363,"h":0.09037,"l":0.090319,"c":0.090326,"v":1000000},
{"t":"2026-03-07T10:40:00Z","o":0.090326,"h":0.09037,"l":0.090319,"c":0.090363,"v":1000000},
{"t":"2026-03-07T10:45:00Z","o":0.090337,"h":0.090426,"l":0.090326,"c":0.090411,"v":1900000},
{"t":"2026-03-07T10:50:00Z","o":0.090352,"h":0.09042,"l":0.090345,"c":0.090411,"v":1000000},
{"t":"2026-03-07T10:55:00Z","o":0.090363,"h":0.090381,"l":0.090307,"c":0.090315,"v":1000000},
{"t":"2026-03-07T11:00:00Z","o":0.090326,"h":0.090344,"l":0.090215,"c":0.090226,"v":3900000},
{"t":"2026-03-07T11:05:00Z","o":0.090233,"h":0.090241,"l":0.090078,"c":0.090085,"v":3900000},
{"t":"2026-03-07T11:10:00Z","o":0.090067,"h":0.090759,"l":0.090048,"c":0.090722,"v":7800000},
{"t":"2026-03-07T11:15:00Z","o":0.090722,"h":0.090759,"l":0.090548,"c":0.090567,"v":3900000},
{"t":"2026-03-07T11:20:00Z","o":0.090567,"h":0.090641,"l":0.090437,"c":0.090456,"v":2900000},
{"t":"2026-03-07T11:25:00Z","o":0.090463,"h":0.090474,"l":0.0904,"c":0.090419,"v":1000000},
{"t":"2026-03-07T11:30:00Z","o":0.090426,"h":0.090448,"l":0.090326,"c":0.090381,"v":1000000},
{"t":"2026-03-07T11:35:00Z","o":0.090381,"h":0.090437,"l":0.090326,"c":0.090419,"v":3900000},
{"t":"2026-03-07T11:40:00Z","o":0.090419,"h":0.090548,"l":0.0904,"c":0.090537,"v":2900000},
{"t":"2026-03-07T11:45:00Z","o":0.090574,"h":0.090585,"l":0.090504,"c":0.090511,"v":1000000},
{"t":"2026-03-07T11:50:00Z","o":0.090567,"h":0.090611,"l":0.090548,"c":0.090585,"v":1000000},
{"t":"2026-03-07T11:55:00Z","o":0.090574,"h":0.090622,"l":0.090511,"c":0.090537,"v":1000000},
{"t":"2026-03-07T12:00:00Z","o":0.090567,"h":0.090585,"l":0.0905,"c":0.090511,"v":1000000},
{"t":"2026-03-07T12:05:00Z","o":0.09053,"h":0.090548,"l":0.090437,"c":0.090456,"v":1000000},
{"t":"2026-03-07T12:10:00Z","o":0.090456,"h":0.090463,"l":0.090352,"c":0.090363,"v":2900000},
{"t":"2026-03-07T12:15:00Z","o":0.090448,"h":0.09045,"l":0.090345,"c":0.090352,"v":1000000},
{"t":"2026-03-07T12:20:00Z","o":0.090352,"h":0.090474,"l":0.090337,"c":0.090448,"v":1000000},
{"t":"2026-03-07T12:25:00Z","o":0.090448,"h":0.090567,"l":0.090437,"c":0.090548,"v":1000000},
{"t":"2026-03-07T12:30:00Z","o":0.090548,"h":0.090633,"l":0.09053,"c":0.090622,"v":1000000},
{"t":"2026-03-07T12:35:00Z","o":0.090622,"h":0.090633,"l":0.090511,"c":0.09053,"v":1000000},
{"t":"2026-03-07T12:40:00Z","o":0.09053,"h":0.090574,"l":0.090522,"c":0.090567,"v":1000000},
{"t":"2026-03-07T12:45:00Z","o":0.09053,"h":0.090548,"l":0.090363,"c":0.090381,"v":1000000},
{"t":"2026-03-07T12:50:00Z","o":0.0904,"h":0.090407,"l":0.090356,"c":0.090363,"v":1000000},
{"t":"2026-03-07T12:55:00Z","o":0.090389,"h":0.0904,"l":0.090241,"c":0.090326,"v":2900000},
{"t":"2026-03-07T13:00:00Z","o":0.090326,"h":0.0904,"l":0.090307,"c":0.090381,"v":1000000},
{"t":"2026-03-07T13:05:00Z","o":0.090381,"h":0.0904,"l":0.090189,"c":0.090289,"v":2900000},
{"t":"2026-03-07T13:10:00Z","o":0.090307,"h":0.090381,"l":0.090289,"c":0.090363,"v":1900000},
{"t":"2026-03-07T13:15:00Z","o":0.090326,"h":0.090456,"l":0.090315,"c":0.090437,"v":2900000},
{"t":"2026-03-07T13:20:00Z","o":0.0904,"h":0.090456,"l":0.090326,"c":0.090448,"v":1000000},
{"t":"2026-03-07T13:25:00Z","o":0.090437,"h":0.09053,"l":0.0904,"c":0.090419,"v":3900000},
{"t":"2026-03-07T13:30:00Z","o":0.090426,"h":0.090548,"l":0.090344,"c":0.090352,"v":4900000},
{"t":"2026-03-07T13:35:00Z","o":0.090363,"h":0.090381,"l":0.090104,"c":0.090141,"v":3900000},
{"t":"2026-03-07T13:40:00Z","o":0.090141,"h":0.090215,"l":0.09013,"c":0.090196,"v":2900000},
{"t":"2026-03-07T13:45:00Z","o":0.090178,"h":0.0903,"l":0.090167,"c":0.090252,"v":4900000},
{"t":"2026-03-07T13:50:00Z","o":0.090241,"h":0.090252,"l":0.090215,"c":0.090226,"v":1000000},
{"t":"2026-03-07T13:55:00Z","o":0.090215,"h":0.09025,"l":0.09021,"c":0.090241,"v":1000000},
{"t":"2026-03-07T14:00:00Z","o":0.090241,"h":0.090252,"l":0.08953,"c":0.089856,"v":74000000},
{"t":"2026-03-07T14:05:00Z","o":0.08987,"h":0.089881,"l":0.089326,"c":0.08953,"v":33100000},
{"t":"2026-03-07T14:10:00Z","o":0.08953,"h":0.089685,"l":0.089522,"c":0.08967,"v":7800000},
{"t":"2026-03-07T14:15:00Z","o":0.089659,"h":0.08977,"l":0.089604,"c":0.089752,"v":2900000},
{"t":"2026-03-07T14:20:00Z","o":0.089733,"h":0.0898,"l":0.08972,"c":0.089789,"v":7800000},
{"t":"2026-03-07T14:25:00Z","o":0.08977,"h":0.089805,"l":0.08976,"c":0.089789,"v":2900000},
{"t":"2026-03-07T14:30:00Z","o":0.089789,"h":0.089807,"l":0.089685,"c":0.089733,"v":1900000},
{"t":"2026-03-07T14:35:00Z","o":0.089789,"h":0.090363,"l":0.08977,"c":0.090326,"v":16600000},
{"t":"2026-03-07T14:40:00Z","o":0.090326,"h":0.090352,"l":0.089993,"c":0.090011,"v":4900000},
{"t":"2026-03-07T14:45:00Z","o":0.090011,"h":0.090085,"l":0.089993,"c":0.090067,"v":1900000},
{"t":"2026-03-07T14:50:00Z","o":0.090048,"h":0.090122,"l":0.090041,"c":0.090078,"v":1900000},
{"t":"2026-03-07T14:55:00Z","o":0.090067,"h":0.090085,"l":0.090004,"c":0.090011,"v":1900000},
{"t":"2026-03-07T15:00:00Z","o":0.090041,"h":0.090048,"l":0.089907,"c":0.090004,"v":6800000},
{"t":"2026-03-07T15:05:00Z","o":0.090019,"h":0.090067,"l":0.089937,"c":0.090048,"v":1000000},
{"t":"2026-03-07T15:10:00Z","o":0.090019,"h":0.090085,"l":0.090004,"c":0.090056,"v":1900000},
{"t":"2026-03-07T15:15:00Z","o":0.090041,"h":0.09013,"l":0.089993,"c":0.090011,"v":2900000},
{"t":"2026-03-07T15:20:00Z","o":0.089993,"h":0.090048,"l":0.089863,"c":0.09003,"v":2900000},
{"t":"2026-03-07T15:25:00Z","o":0.09003,"h":0.090041,"l":0.089919,"c":0.08993,"v":1900000},
{"t":"2026-03-07T15:30:00Z","o":0.089974,"h":0.090019,"l":0.089907,"c":0.08993,"v":6800000},
{"t":"2026-03-07T15:35:00Z","o":0.089974,"h":0.089981,"l":0.089537,"c":0.089633,"v":2900000},
{"t":"2026-03-07T15:40:00Z","o":0.089633,"h":0.089715,"l":0.089622,"c":0.089685,"v":3900000},
{"t":"2026-03-07T15:45:00Z","o":0.089641,"h":0.089807,"l":0.089622,"c":0.089789,"v":2900000},
{"t":"2026-03-07T15:50:00Z","o":0.089789,"h":0.089937,"l":0.089781,"c":0.089919,"v":2900000},
{"t":"2026-03-07T15:55:00Z","o":0.089907,"h":0.089993,"l":0.089863,"c":0.089981,"v":1000000},
{"t":"2026-03-07T16:00:00Z","o":0.089974,"h":0.09003,"l":0.089956,"c":0.090011,"v":1900000},
{"t":"2026-03-07T16:05:00Z","o":0.089993,"h":0.090085,"l":0.089856,"c":0.090067,"v":1900000},
{"t":"2026-03-07T16:10:00Z","o":0.090048,"h":0.09013,"l":0.09003,"c":0.090104,"v":1000000},
{"t":"2026-03-07T16:15:00Z","o":0.090085,"h":0.090141,"l":0.090067,"c":0.090115,"v":8800000},
{"t":"2026-03-07T16:20:00Z","o":0.090115,"h":0.090141,"l":0.090056,"c":0.090067,"v":1900000},
{"t":"2026-03-07T16:25:00Z","o":0.090078,"h":0.090141,"l":0.089974,"c":0.089993,"v":2900000},
{"t":"2026-03-07T16:30:00Z","o":0.089993,"h":0.090041,"l":0.089937,"c":0.090019,"v":1000000},
{"t":"2026-03-07T16:35:00Z","o":0.090011,"h":0.09003,"l":0.08993,"c":0.089967,"v":1000000}
]},
"vconcat":[
{
 "width":1279,"height":437,
 "title":{"text":"DOGEUSDT шорт | момент до опена: вниз (aligned, иначе входа бы не было) | net +26.7 bp | time_exit_asof_close, 1440 мин | H2","anchor":"middle","frame":"group","font":"DejaVu Sans","fontSize":15.2,"fontWeight":"normal","color":"#000000","offset":5},
 "layer":[
  {"data":{"name":"candles"},
   "mark":{"type":"rule","strokeWidth":1},
   "encoding":{
    "x":{"field":"t","type":"temporal","scale":{"type":"utc","domain":[{"year":2026,"month":3,"date":6,"hours":12,"minutes":6,"seconds":40,"utc":true},{"year":2026,"month":3,"date":7,"hours":17,"minutes":58,"seconds":30,"utc":true}]},
     "axis":{"title":null,"labels":false,"ticks":true,"grid":true,"values":[{"year":2026,"month":3,"date":6,"hours":14,"minutes":24,"utc":true},{"year":2026,"month":3,"date":6,"hours":19,"minutes":12,"utc":true},{"year":2026,"month":3,"date":7,"hours":0,"minutes":0,"utc":true},{"year":2026,"month":3,"date":7,"hours":4,"minutes":48,"utc":true},{"year":2026,"month":3,"date":7,"hours":9,"minutes":36,"utc":true},{"year":2026,"month":3,"date":7,"hours":14,"minutes":24,"utc":true}]}},
    "y":{"field":"l","type":"quantitative","scale":{"domain":[0.0891222,0.0939811],"zero":false,"nice":false},"axis":{"title":null,"values":[0.09,0.091,0.092,0.093],"format":".3f","grid":true}},
    "y2":{"field":"h"},
    "color":{"condition":{"test":"datum.c >= datum.o","value":"#27ae60"},"value":"#e74c3c"}
   }},
  {"data":{"name":"candles"},
   "mark":{"type":"bar","size":2.5},
   "encoding":{
    "x":{"field":"t","type":"temporal"},
    "y":{"field":"o","type":"quantitative"},
    "y2":{"field":"c"},
    "color":{"condition":{"test":"datum.c >= datum.o","value":"#27ae60"},"value":"#e74c3c"}
   }},
  {"data":{"values":[{"level":0.093767}]},
   "mark":{"type":"rule","color":"#c0392b","strokeWidth":1.6},
   "encoding":{"y":{"field":"level","type":"quantitative"}}},
  {"data":{"values":[{"level":0.0912}]},
   "mark":{"type":"rule","color":"#e67e22","strokeWidth":1.5,"strokeDash":[6.7,3.3]},
   "encoding":{"y":{"field":"level","type":"quantitative"}}},
  {"data":{"values":[{"level":0.09057}]},
   "mark":{"type":"rule","color":"#2980b9","strokeWidth":1.5,"strokeDash":[6.7,3.3]},
   "encoding":{"y":{"field":"level","type":"quantitative"}}},
  {"data":{"values":[{"t":"2026-03-06T14:30:00Z"}]},
   "mark":{"type":"rule","color":"#9b59b6","strokeWidth":1.4,"strokeDash":[1.5,2.2]},
   "encoding":{"x":{"field":"t","type":"temporal"}}},
  {"data":{"values":[
     {"label":"вход 0.090240 @ 2026-03-06 14:35","t":"2026-03-06T14:35:00Z","p":0.09024},
     {"label":"выход 0.089900 @ 2026-03-07 14:35 (time_exit_asof_close)","t":"2026-03-07T14:35:00Z","p":0.0899}]},
   "mark":{"type":"point","filled":true,"size":196,"opacity":1,"strokeWidth":1},
   "encoding":{
    "x":{"field":"t","type":"temporal"},
    "y":{"field":"p","type":"quantitative"},
    "fill":{"field":"label","type":"nominal","legend":{"title":null},
      "scale":{"domain":["диапазон H 0.091200","диапазон L 0.090570","стоп 0.093767 (3.9081%)","вход 0.090240 @ 2026-03-06 14:35","выход 0.089900 @ 2026-03-07 14:35 (time_exit_asof_close)","опен NY (событие)"],
               "range":["transparent","transparent","transparent","#e74c3c","#111111","transparent"]}},
    "stroke":{"field":"label","type":"nominal","legend":{"title":null},
      "scale":{"domain":["диапазон H 0.091200","диапазон L 0.090570","стоп 0.093767 (3.9081%)","вход 0.090240 @ 2026-03-06 14:35","выход 0.089900 @ 2026-03-07 14:35 (time_exit_asof_close)","опен NY (событие)"],
               "range":["#e67e22","#2980b9","#c0392b","#000000","#000000","#9b59b6"]}},
    "shape":{"field":"label","type":"nominal","legend":{"title":null},
      "scale":{"domain":["диапазон H 0.091200","диапазон L 0.090570","стоп 0.093767 (3.9081%)","вход 0.090240 @ 2026-03-06 14:35","выход 0.089900 @ 2026-03-07 14:35 (time_exit_asof_close)","опен NY (событие)"],
               "range":["M-1.9,0H-0.94M-0.47,0H0.49M0.96,0H1.43","M-1.9,0H-0.94M-0.47,0H0.49M0.96,0H1.43","M-1.9,0H1.43","M-1.07,-1L1.07,-1L0,1.14Z","M-1.07,-1.07H1.07V1.07H-1.07Z","M-1.9,0H-1.69M-1.46,0H-1.25M-1.02,0H-0.81M-0.58,0H-0.37M-0.14,0H0.07M0.3,0H0.51M0.74,0H0.95M1.18,0H1.39"]}}
   }}
 ]
},
{
 "width":1279,"height":146,
 "data":{"name":"candles"},
 "mark":{"type":"bar","size":2.3,"opacity":0.6},
 "encoding":{
  "x":{"field":"t","type":"temporal","scale":{"type":"utc","domain":[{"year":2026,"month":3,"date":6,"hours":12,"minutes":6,"seconds":40,"utc":true},{"year":2026,"month":3,"date":7,"hours":17,"minutes":58,"seconds":30,"utc":true}]},
   "axis":{"title":null,"grid":true,"labelAngle":-30,"labelAlign":"right","labelBaseline":"top","labelPadding":5,"labelOffset":-7,"labelExpr":"utcFormat(datum.value, '%Y-%m-%d %H:%M')",
    "values":[{"year":2026,"month":3,"date":6,"hours":14,"minutes":24,"utc":true},{"year":2026,"month":3,"date":6,"hours":19,"minutes":12,"utc":true},{"year":2026,"month":3,"date":7,"hours":0,"minutes":0,"utc":true},{"year":2026,"month":3,"date":7,"hours":4,"minutes":48,"utc":true},{"year":2026,"month":3,"date":7,"hours":9,"minutes":36,"utc":true},{"year":2026,"month":3,"date":7,"hours":14,"minutes":24,"utc":true}]}},
  "y":{"field":"v","type":"quantitative","scale":{"domain":[0,140100000],"nice":false},
   "axis":{"values":[0,50000000,100000000],"labelExpr":"format(datum.value/100000000, '.1f')","grid":true,"title":"1e8","titleAngle":0,"titleAlign":"left","titleBaseline":"alphabetic","titleX":1,"titleY":-5,"titleFont":"DejaVu Sans","titleFontSize":14,"titleFontWeight":"normal","titleColor":"#000000"}},
  "color":{"condition":{"test":"datum.c >= datum.o","value":"#27ae60"},"value":"#e74c3c"}
 }
}
]
}
